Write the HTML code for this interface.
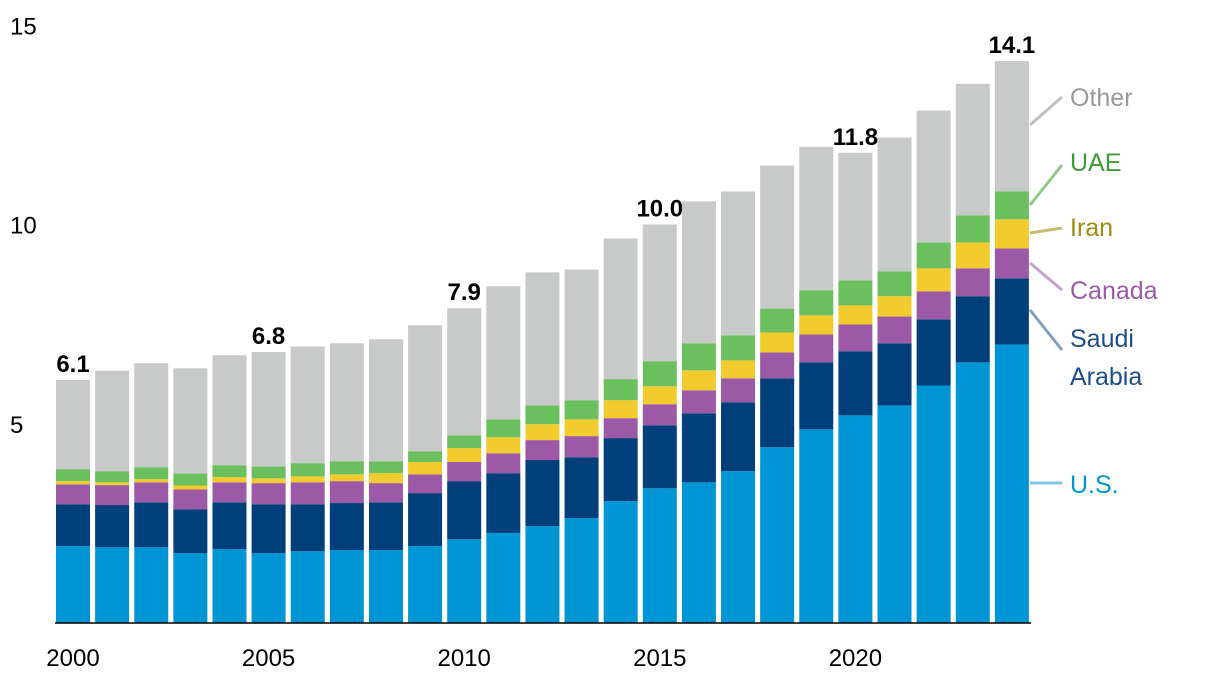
<!DOCTYPE html>
<html><head><meta charset="utf-8"><style>
body{margin:0;background:#fff;}
svg text{font-family:"Liberation Sans",sans-serif;}
</style></head><body>
<svg id="c" width="1220" height="688"></svg>
<script>
const years=[2000,2001,2002,2003,2004,2005,2006,2007,2008,2009,2010,2011,2012,2013,2014,2015,2016,2017,2018,2019,2020,2021,2022,2023,2024];
const us=[1.93,1.9,1.9,1.75,1.85,1.75,1.8,1.83,1.83,1.93,2.1,2.26,2.43,2.63,3.06,3.38,3.53,3.81,4.41,4.86,5.21,5.46,5.96,6.54,6.99];
const saudi=[1.05,1.06,1.13,1.1,1.18,1.23,1.18,1.18,1.2,1.33,1.46,1.5,1.66,1.53,1.58,1.58,1.73,1.73,1.73,1.68,1.61,1.56,1.66,1.66,1.66];
const canada=[0.5,0.5,0.5,0.5,0.5,0.53,0.55,0.55,0.48,0.47,0.48,0.5,0.5,0.53,0.5,0.53,0.58,0.6,0.65,0.7,0.67,0.67,0.7,0.7,0.75];
const iran=[0.08,0.07,0.08,0.1,0.13,0.12,0.15,0.17,0.25,0.31,0.35,0.4,0.4,0.42,0.45,0.45,0.5,0.45,0.5,0.48,0.48,0.51,0.58,0.65,0.73];
const uae=[0.3,0.28,0.3,0.3,0.3,0.3,0.33,0.33,0.3,0.27,0.32,0.45,0.47,0.48,0.53,0.63,0.68,0.63,0.6,0.63,0.63,0.62,0.65,0.68,0.7];
const totals=[6.1,6.33,6.52,6.39,6.72,6.8,6.94,7.02,7.12,7.47,7.9,8.45,8.8,8.87,9.65,10.0,10.58,10.83,11.48,11.95,11.8,12.18,12.86,13.53,14.1];
const labeledYears=[2000,2005,2010,2015,2020,2024];
const yTicks=[5,10,15];
const xTicks=[2000,2005,2010,2015,2020];
const NS="http://www.w3.org/2000/svg";
const svg=document.getElementById('c');
const y=v=>623-v*39.85;
const xc=yr=>73+(yr-2000)*39.12;
const bw=34;
function el(t,a,txt){const e=document.createElementNS(NS,t);for(const k in a)e.setAttribute(k,a[k]);if(txt!=null)e.textContent=txt;svg.appendChild(e);return e;}
const series=[["us",us,"#0096d6"],["saudi-arabia",saudi,"#003f7a"],["canada",canada,"#9b59a6"],["iran",iran,"#f2cb2e"],["uae",uae,"#6cbf5e"]];
years.forEach((yr,i)=>{
  let base=0;
  series.forEach(([n,arr,col])=>{
    const r=el('rect',{x:xc(yr)-bw/2,y:y(base+arr[i]),width:bw,height:y(base)-y(base+arr[i]),fill:col});
    
    
    base+=arr[i];
  });
  const o=el('rect',{x:xc(yr)-bw/2,y:y(totals[i]),width:bw,height:Math.max(0,y(base)-y(totals[i])),fill:"#c8c9c9"});
  
  
  if(labeledYears.includes(yr)){
    const t=el('text',{x:xc(yr),y:y(totals[i])-8,'text-anchor':'middle','font-size':24,'font-weight':'bold',fill:'#000'},totals[i].toFixed(1));
    
    
  }
});
const ax=el('line',{x1:55,x2:1031,y1:623,y2:623,stroke:'#000','stroke-width':1.5});


yTicks.forEach(v=>{
  const t=el('text',{x:10,y:y(v)+9,'font-size':24,fill:'#000'},String(v));
  
  
});
xTicks.forEach(v=>{
  const t=el('text',{x:xc(v),y:666,'text-anchor':'middle','font-size':24,fill:'#000'},String(v));
  
  
});
const legend=[["Other","#999","#c0c0c0",125,97,[106]],["UAE","#3f9a3a","#8cc985",205,165,[171]],["Iran","#a08a10","#c9bc70",233,228,[236]],["Canada","#9b59a6","#c8a0d0",263,290,[299]],["Saudi Arabia","#1d4e89","#7f9fc0",310,350,[347,385]],["U.S.","#0096d6","#7cc4e8",483,483,[493]]];
legend.forEach(([name,tc,lc,y1,y2,ys])=>{
  const l=el('line',{x1:1030,y1:y1,x2:1062,y2:y2,stroke:lc,'stroke-width':3});
  
  
  const words=name==="Saudi Arabia"?["Saudi","Arabia"]:[name];
  words.forEach((w,k)=>{
    const t=el('text',{x:1070,y:ys[k],'font-size':25,fill:tc},w);
    
    
  });
});
</script>
</body></html>
